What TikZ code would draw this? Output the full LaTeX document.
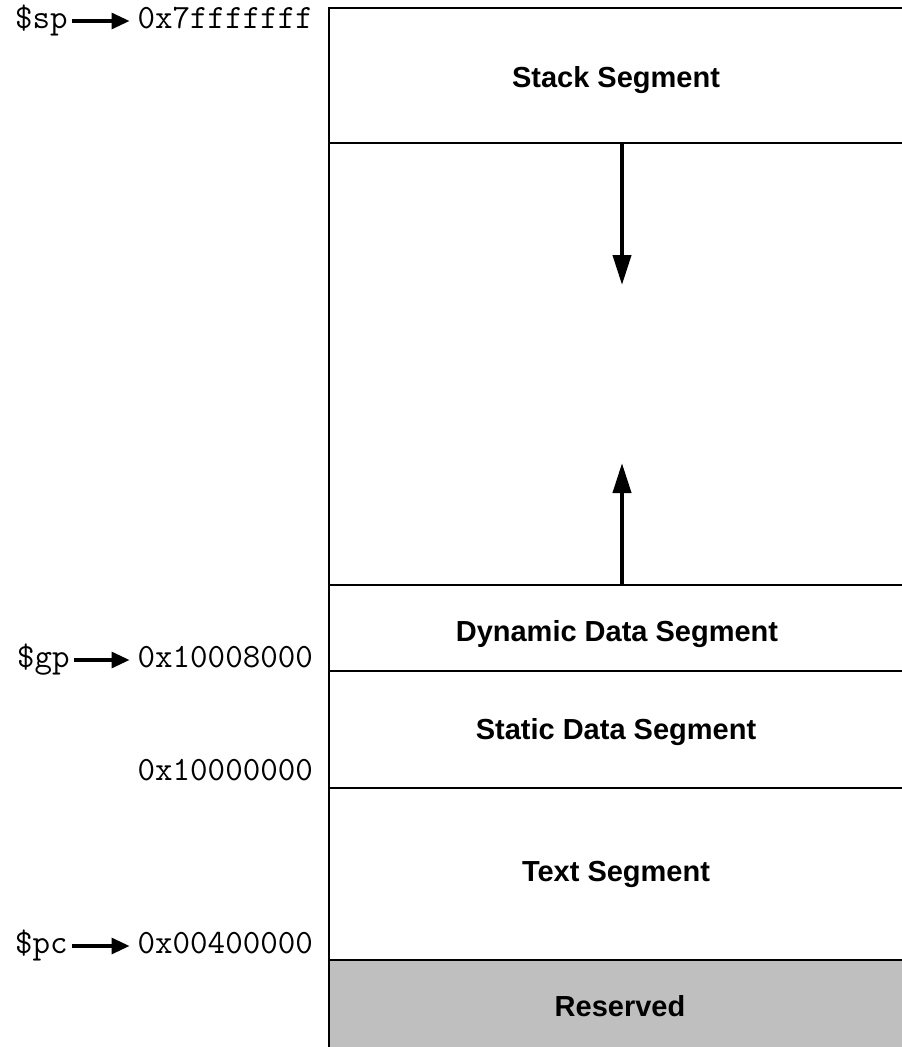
\documentclass[tikz,border=0pt]{standalone}
\usepackage{fontspec}
\setmainfont{Liberation Sans}
\usetikzlibrary{arrows.meta}
\definecolor{resgray}{RGB}{191,191,191}
\tikzset{
	segtext/.style={font=\fontsize{29}{34}\selectfont\bfseries, anchor=base, inner sep=0pt},
	addr/.style={font=\fontsize{34}{38}\selectfont\ttfamily, anchor=base east, inner sep=0pt},
	reg/.style={font=\fontsize{34}{38}\selectfont\ttfamily, anchor=base west, inner sep=0pt},
	regarrow/.style={line width=3.2pt, -{Triangle[length=18pt,width=16pt]}, shorten <=4pt, shorten >=8pt},
	growarrow/.style={line width=4pt, -{Triangle[length=30pt,width=18pt]}}
}

\begin{document}
\begin{tikzpicture}[x=1pt, y=-1pt]
		%%%%% START %%%%%
		\useasboundingbox (0, 0) rectangle (902, 1047);
		
		\fill[resgray] (329, 960) rectangle (902, 1047);
		\draw[line width=2.5pt] (329, 1047) -- (329, 8) -- (902, 8);
		\foreach \y in {143, 585, 671, 788, 960}
			\draw[line width=2.5pt] (329, \y) -- (902, \y);
		
		\node[segtext] (stack) at (616, 87) {Stack Segment};
		\node[segtext] (dyn) at (617, 641) {Dynamic Data Segment};
		\node[segtext] (static) at (616, 739) {Static Data Segment};
		\node[segtext] (text) at (616, 881) {Text Segment};
		\node[segtext] (res) at (620, 1016) {Reserved};
		
		\coordinate (stackfrom) at (622, 143);
		\coordinate (stackto) at (622, 285);
		\coordinate (heapfrom) at (622, 585);
		\coordinate (heapto) at (622, 463);
		\draw[growarrow] (stackfrom) -- (stackto);
		\draw[growarrow] (heapfrom) -- (heapto);
		
		\node[addr] (top) at (313, 28) {0x7fffffff};
		\node[addr] (gpaddr) at (313, 667) {0x10008000};
		\node[addr] (dataaddr) at (313, 780) {0x10000000};
		\node[addr] (textaddr) at (313, 953) {0x00400000};
		
		\node[reg] (sp) at (15, 28) {\$sp};
		\node[reg] (gp) at (17, 667) {\$gp};
		\node[reg] (pc) at (15, 953) {\$pc};
		
		\draw[regarrow] ([yshift=7pt]sp.base east) -- ([yshift=7pt]top.base west);
		\draw[regarrow] ([yshift=7pt]gp.base east) -- ([yshift=7pt]gpaddr.base west);
		\draw[regarrow] ([yshift=7pt]pc.base east) -- ([yshift=7pt]textaddr.base west);
		%%%%% END %%%%%
\end{tikzpicture}
\end{document}
